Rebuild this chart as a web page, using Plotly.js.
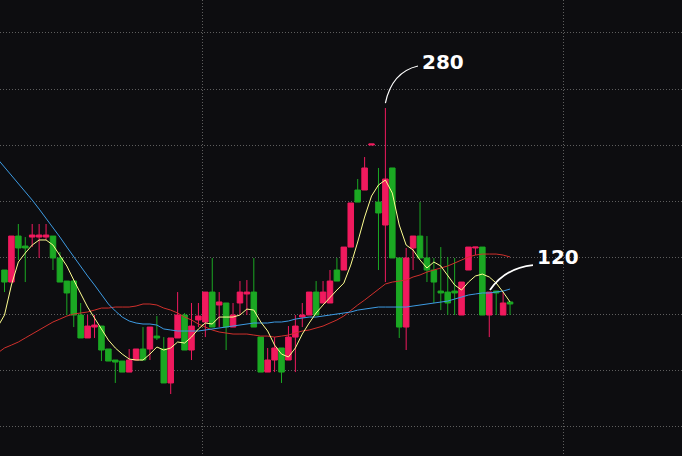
<!DOCTYPE html>
<html><head><meta charset="utf-8">
<script src="https://cdn.plot.ly/plotly-3.0.1.min.js"></script>
<style>html,body{margin:0;padding:0;background:#0d0d10;overflow:hidden}#chart{width:682px;height:456px}</style>
</head><body><div id="chart"></div>
<script>
// Trading days (index of each candle)
const days = Array.from({length: 74}, (_, i) => i);
const maDays = [-1].concat(days);

const open = [136.0,125.3,166.2,157.3,165.3,165.3,165.3,166.2,146.7,126.2,
  126.2,96.0,75.6,85.3,86.2,65.8,56.0,55.1,45.3,56.0,
  65.8,65.8,77.3,65.8,35.6,75.6,96.0,64.9,91.6,89.8,
  116.4,104.9,106.7,85.3,106.7,114.7,116.4,76.4,45.3,56.0,
  66.7,56.0,76.4,94.2,96.0,116.4,106.7,106.7,136.0,136.0,
  156.4,207.1,207.1,247.1,196.4,176.0,226.7,146.7,85.3,155.6,
  166.2,146.7,136.0,117.3,116.4,117.3,96.0,136.0,155.6,156.4,
  96.0,117.3,96.0,107.6];
const high = [136.0,166.2,176.9,165.3,176.9,176.9,176.9,166.2,152.0,126.2,
  127.1,106.7,96.0,96.0,86.2,65.8,56.0,55.1,65.8,65.8,
  85.3,85.3,95.1,76.4,75.6,116.4,97.8,106.7,106.7,116.4,
  146.7,116.4,106.7,106.7,126.2,127.1,146.7,76.4,66.7,76.4,
  66.7,86.2,96.0,106.7,116.4,126.2,126.2,136.0,146.7,156.4,
  195.6,216.9,236.4,248.0,226.7,280.0,226.7,146.7,155.6,166.2,
  196.4,166.2,146.7,156.4,147.6,146.7,125.3,156.4,156.4,156.4,
  116.4,117.3,116.4,107.6];
const low = [116.4,125.3,144.9,125.3,156.4,146.7,162.7,136.0,125.3,96.0,
  85.3,75.6,75.6,75.6,55.1,55.1,35.6,45.3,45.3,56.0,
  56.0,56.0,73.8,35.6,25.8,75.6,64.9,56.0,85.3,76.4,
  85.3,85.3,64.9,85.3,96.0,96.0,85.3,45.3,45.3,45.3,
  35.6,56.0,45.3,85.3,96.0,96.0,106.7,106.7,126.2,136.0,
  156.4,196.4,207.1,247.1,136.0,125.3,146.7,75.6,64.9,136.0,
  146.7,125.3,106.7,100.4,96.0,96.0,96.0,136.0,149.3,96.0,
  76.4,96.0,96.0,96.0];
const close = [125.3,166.2,155.6,155.6,167.1,167.1,167.1,146.7,125.3,115.6,
  96.0,75.6,86.2,87.1,64.9,55.1,54.2,45.3,56.0,65.8,
  56.0,85.3,75.6,35.6,75.6,96.0,64.9,86.2,95.1,116.4,
  85.3,107.6,85.3,96.0,116.4,116.4,85.3,45.3,56.0,66.7,
  45.3,76.4,86.2,96.0,116.4,96.0,116.4,126.2,126.2,156.4,
  195.6,196.4,226.7,248.0,186.7,216.9,146.7,85.3,146.7,166.2,
  146.7,136.0,125.3,115.6,106.7,115.6,125.3,156.4,156.4,96.0,
  116.4,115.6,106.7,105.8];

// Moving averages (first value is the day before the first visible candle)
const maShort = [85.3,
  96.0,122.7,143.1,151.1,158.2,162.7,162.7,158.2,149.3,139.6,
  127.1,114.7,103.1,93.3,83.6,73.8,66.7,61.3,56.9,56.0,
  56.0,61.3,67.6,64.9,66.7,72.0,71.1,76.4,83.6,88.9,
  88.0,94.2,94.2,94.2,96.0,101.3,100.4,89.8,81.8,69.3,
  61.3,58.7,66.7,79.1,88.9,97.8,104.9,112.0,118.2,124.4,
  140.4,160.9,183.1,201.8,211.6,216.0,204.4,176.0,158.2,153.8,
  144.9,137.8,143.1,139.6,131.6,122.7,118.2,125.3,130.7,132.4,
  129.8,124.4,116.4,107.6];
const maMid = [62.2,
  66.7,69.3,72.0,75.6,79.1,82.7,86.2,89.8,92.4,95.1,
  96.9,97.8,98.7,100.4,102.2,102.2,103.1,103.1,103.1,104.0,
  105.8,105.8,104.9,102.2,100.4,97.8,94.2,91.6,88.0,85.3,
  82.7,80.9,80.0,79.1,79.1,79.1,78.2,77.3,77.3,76.4,
  77.3,78.2,80.0,81.8,82.7,84.4,86.2,88.9,91.6,95.1,
  100.4,104.9,109.3,113.8,119.1,123.6,125.3,126.2,127.1,129.8,
  131.6,134.2,136.0,137.8,139.6,142.2,144.9,147.6,149.3,150.2,
  150.2,150.2,149.3,147.6];
const maLong = [234.7,
  227.6,220.4,213.3,206.2,198.2,190.2,182.2,174.2,165.3,156.4,
  147.6,138.7,130.7,122.7,114.7,105.8,99.6,94.2,90.7,88.9,
  88.0,88.0,87.1,83.6,82.7,81.8,81.8,81.8,81.8,82.7,
  83.6,84.4,85.3,86.2,87.1,88.0,88.9,88.9,88.9,89.8,
  89.8,90.7,92.4,93.3,94.2,94.2,95.1,96.0,96.9,97.8,
  98.7,100.4,101.3,102.2,103.1,103.1,103.1,103.1,103.1,104.0,
  104.9,105.8,106.7,107.6,108.4,110.2,112.0,113.8,114.7,115.6,
  115.6,116.4,117.3,119.1];

const calloutLabels = ['280', '120'];

const W = 682, H = 456;
const X_RANGE = [-0.65, 97.83], Y_RANGE = [-29.3, 376.0];
const pxX = W / (X_RANGE[1] - X_RANGE[0]);
const pxY = H / (Y_RANGE[1] - Y_RANGE[0]);
function off(ax, ay, dx, dy) { return [ax + dx / pxX, ay - dy / pxY]; }
function curve(ax, ay, p0, c, p1) {
  const a = off(ax, ay, p0[0], p0[1]), b = off(ax, ay, c[0], c[1]), d = off(ax, ay, p1[0], p1[1]);
  return 'M' + a[0] + ',' + a[1] + ' Q' + b[0] + ',' + b[1] + ' ' + d[0] + ',' + d[1];
}

const PINK = '#f01a5e', GREEN = '#1ba823';
const traces = [
  {type: 'candlestick', x: days, open: open, high: high, low: low, close: close,
   increasing: {line: {color: PINK, width: 1}, fillcolor: PINK},
   decreasing: {line: {color: GREEN, width: 1}, fillcolor: GREEN},
   whiskerwidth: 0, hoverinfo: 'skip', showlegend: false},
  {type: 'scatter', mode: 'lines', x: maDays, y: maMid, line: {color: '#d0302c', width: 1}, hoverinfo: 'skip', showlegend: false},
  {type: 'scatter', mode: 'lines', x: maDays, y: maLong, line: {color: '#3d9be3', width: 1}, hoverinfo: 'skip', showlegend: false},
  {type: 'scatter', mode: 'lines', x: maDays, y: maShort, line: {color: '#ffff90', width: 1}, hoverinfo: 'skip', showlegend: false}
];

const pk = 55, lw = 70;
const ax1 = days[pk], ay1 = high[pk];
const ax2 = days[lw], ay2 = close[lw];
const labelFont = {family: 'DejaVu Sans', size: 20, color: '#ffffff', weight: 'bold'};

const layout = {
  width: W, height: H,
  margin: {l: 0, r: 0, t: 0, b: 0},
  paper_bgcolor: '#0d0d10', plot_bgcolor: '#0d0d10',
  showlegend: false,
  boxgap: 0.2, boxgroupgap: 0,
  xaxis: {range: X_RANGE, showticklabels: false, zeroline: false, showline: false,
    showgrid: true, gridcolor: '#5e5e5e', griddash: '1px,2px', gridwidth: 1,
    tick0: 28.52, dtick: 52.13, ticks: '', rangeslider: {visible: false}, fixedrange: true},
  yaxis: {range: Y_RANGE, showticklabels: false, zeroline: false, showline: false,
    showgrid: true, gridcolor: '#5e5e5e', griddash: '1px,2px', gridwidth: 1,
    tick0: 46.7, dtick: 50, ticks: '', fixedrange: true},
  annotations: [
    {x: ax1, y: ay1, xref: 'x', yref: 'y', text: calloutLabels[0], showarrow: false,
     xanchor: 'left', yanchor: 'middle', xshift: 35, yshift: 46, font: labelFont},
    {x: ax2, y: ay2, xref: 'x', yref: 'y', text: calloutLabels[1], showarrow: false,
     xanchor: 'left', yanchor: 'middle', xshift: 46, yshift: 35, font: labelFont}
  ],
  shapes: [
    {type: 'path', xref: 'x', yref: 'y', path: curve(ax1, ay1, [0, -5], [6.6, -36], [32.6, -42]),
     line: {color: '#ffffff', width: 1.2}},
    {type: 'path', xref: 'x', yref: 'y', path: curve(ax2, ay2, [0.7, -2], [15.7, -24], [43.7, -27]),
     line: {color: '#ffffff', width: 1.8}}
  ]
};

Plotly.newPlot('chart', traces, layout, {displayModeBar: false, staticPlot: true});
</script>
</body></html>
